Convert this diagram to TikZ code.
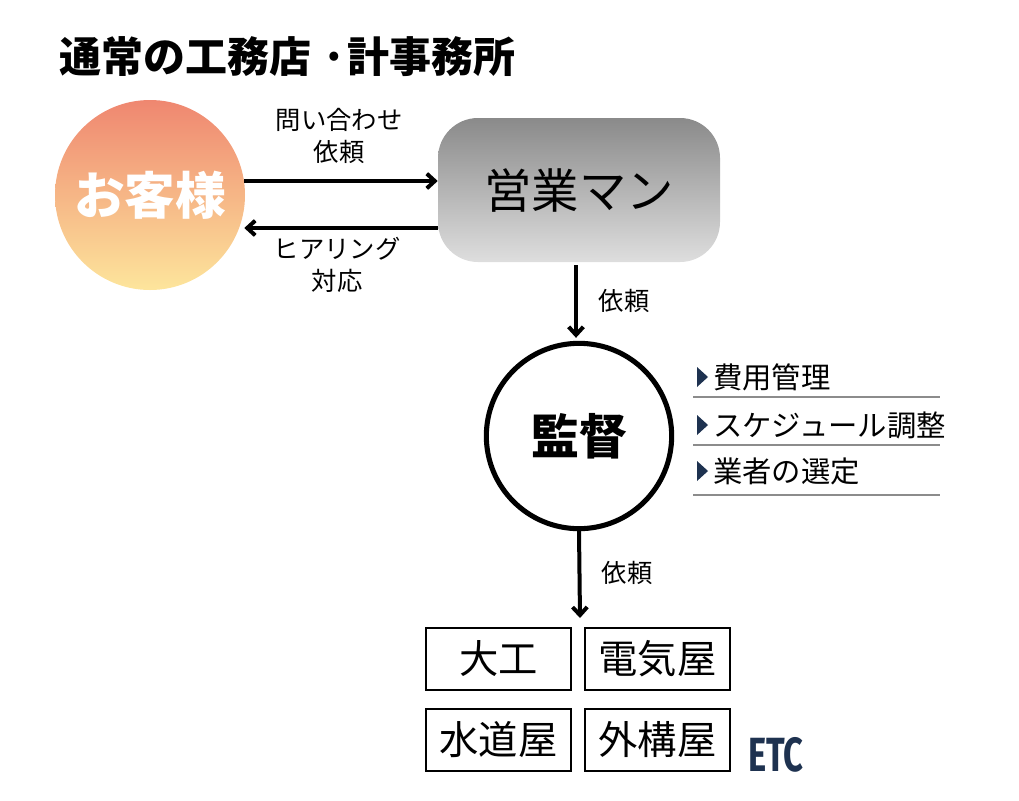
\documentclass[tikz,border=0pt]{standalone}
\usepackage{fontspec}
\setmainfont{Noto Sans CJK JP}
\newfontfamily\etcfont{Fira Sans}
\usetikzlibrary{arrows.meta,calc}
\definecolor{navy}{HTML}{1E3250}
\definecolor{ctop}{HTML}{EF8770}
\definecolor{cbot}{HTML}{FDE59C}
\definecolor{gtop}{HTML}{8A8A8A}
\definecolor{gbot}{HTML}{DEDEDE}
\definecolor{rule}{HTML}{8C8C8C}
\tikzset{
  arr/.style={line width=3pt,-{Straight Barb[length=6pt,width=11pt,line width=3pt]}},
  lbl/.style={font=\fontsize{19}{24}\selectfont,align=center,inner sep=0pt},
  trade/.style={draw,line width=1.1pt,minimum width=108.75pt,minimum height=46.5pt,inner sep=0pt,font=\fontsize{29.5}{30}\selectfont},
  item/.style={anchor=west,inner sep=0pt,font=\fontsize{22}{24}\selectfont},
  tri/.style={fill=navy}
}
\begin{document}
\begin{tikzpicture}[x=0.75pt,y=-0.75pt]
\useasboundingbox (0,0) rectangle (1019,800);
% title
\node[anchor=west,inner sep=0pt,font=\fontsize{31.5}{32}\selectfont\bfseries] (title) at (59,57) {通常の工務店\hspace{0.25em}·計事務所};
% customer
\node[circle,minimum size=142.5pt,inner sep=0pt,top color=ctop,bottom color=cbot,text=white,font=\fontsize{38}{40}\selectfont\bfseries] (cust) at (150,195) {お客様};
% sales
\node[rounded corners=30pt,minimum width=211.5pt,minimum height=108pt,inner sep=0pt,top color=gtop,bottom color=gbot,font=\fontsize{35.5}{36}\selectfont] (sales) at (579,190) {営業マン};
% arrows between customer and sales
\draw[arr] ($(cust.east)+(-1,-14)$) -- ($(sales.west)+(0,-9)$);
\draw[arr] ($(sales.west)+(0,38)$) -- ($(cust.east)+(-1,33)$);
\node[lbl] (l1) at (339,136) {問い合わせ\\依頼};
\node[lbl] (l2) at (337,265) {ヒアリング\\対応};
% supervisor
\node[circle,draw,line width=3.8pt,minimum size=139pt,inner sep=0pt,font=\fontsize{36}{36}\selectfont\bfseries] (sup) at (579,436) {監督};
\draw[arr] ($(sales.south)+(-3,3)$) -- ($(sup.north)+(-3,-3)$);
\node[lbl] (l3) at (624,301) {依頼};
\coordinate (trtop) at (580,618);
\draw[arr] (sup.south) -- (trtop);
\node[lbl] (l4) at (627,573) {依頼};
% list
\foreach \y/\t/\n in {377/費用管理/a, 425/スケジュール調整/b, 471/業者の選定/c}{
  \fill[tri] (697,\y-10) -- (708,\y) -- (697,\y+10) -- cycle;
  \node[item] (it\n) at (713,\y) {\t};
}
\foreach \y in {397,445,495}{
  \draw[rule,line width=0.8pt] (693,\y) -- (940,\y);
}
% trades
\node[trade] (t1) at (498.5,659) {大工};
\node[trade] (t2) at (657.5,659) {電気屋};
\node[trade] (t3) at (498.5,740) {水道屋};
\node[trade] (t4) at (657.5,740) {外構屋};
\node[inner sep=0pt,text=navy] (etc) at (776,755) {\scalebox{0.72}[1]{\etcfont\fontsize{36}{36}\selectfont\bfseries ETC}};
\end{tikzpicture}
\end{document}
